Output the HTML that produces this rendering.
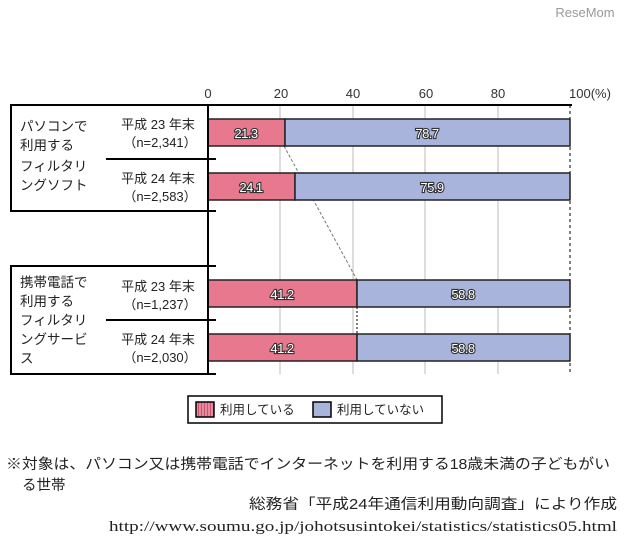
<!DOCTYPE html>
<html><head><meta charset="utf-8"><style>
body{margin:0;background:#fff;width:640px;height:553px;overflow:hidden;font-family:"Liberation Sans","Noto Sans CJK JP",sans-serif;}
</style></head><body>
<svg width="640" height="553" viewBox="0 0 640 553" xmlns="http://www.w3.org/2000/svg" font-family="Liberation Sans, Noto Sans CJK JP, sans-serif">
<defs><pattern id="hp" width="3" height="10" patternUnits="userSpaceOnUse"><rect width="3" height="10" fill="#e98a9c"/><rect width="1" height="10" fill="#c9566c"/></pattern></defs>
<text x="585" y="17" font-size="13" fill="#999" text-anchor="middle">ReseMom</text>
<g font-size="13" fill="#333" text-anchor="middle">
<text x="208" y="98">0</text><text x="281" y="98">20</text><text x="353" y="98">40</text><text x="426" y="98">60</text><text x="498" y="98">80</text><text x="590" y="98">100(%)</text>
</g>
<g stroke="#bbb" stroke-width="1">
<line x1="280" y1="105" x2="280" y2="374"/><line x1="353" y1="105" x2="353" y2="374"/><line x1="425" y1="105" x2="425" y2="374"/><line x1="498" y1="105" x2="498" y2="374"/>
</g>
<line x1="570" y1="105" x2="570" y2="374" stroke="#000" stroke-dasharray="3,3"/>
<line x1="284" y1="146" x2="357" y2="280" stroke="#777" stroke-dasharray="3,2"/>
<line x1="357" y1="307" x2="357" y2="334" stroke="#000" stroke-dasharray="2,2"/>
<g stroke="#222" stroke-width="1.5">
<rect x="208" y="119" width="77" height="27" fill="#e8788e"/><rect x="285" y="119" width="285" height="27" fill="#a9b4dc"/>
<rect x="208" y="173" width="87" height="27" fill="#e8788e"/><rect x="295" y="173" width="275" height="27" fill="#a9b4dc"/>
<rect x="208" y="280" width="149" height="27" fill="#e8788e"/><rect x="357" y="280" width="213" height="27" fill="#a9b4dc"/>
<rect x="208" y="334" width="149" height="27" fill="#e8788e"/><rect x="357" y="334" width="213" height="27" fill="#a9b4dc"/>
</g>
<g font-size="13" fill="#fff" text-anchor="middle" stroke="#333" stroke-width="2.2" paint-order="stroke" style="letter-spacing:-0.5px">
<text x="246" y="138">21.3</text><text x="427" y="138">78.7</text>
<text x="251" y="192">24.1</text><text x="432" y="192">75.9</text>
<text x="282" y="299">41.2</text><text x="463" y="299">58.8</text>
<text x="282" y="353">41.2</text><text x="463" y="353">58.8</text>
</g>
<g stroke="#000" stroke-width="2" fill="none">
<line x1="208" y1="105" x2="572" y2="105"/>
<line x1="208" y1="105" x2="208" y2="374"/>
<path d="M208 105 H11 V211 H216"/>
<path d="M216 266 H11 V374 H216"/>
<line x1="106" y1="159" x2="216" y2="159"/>
<line x1="106" y1="320" x2="216" y2="320"/>
</g>
<g font-size="13.5" fill="#222">
<text x="20" y="131">パソコンで</text><text x="20" y="150">利用する</text><text x="20" y="171">フィルタリ</text><text x="20" y="190">ングソフト</text>
<text x="20" y="287">携帯電話で</text><text x="20" y="306">利用する</text><text x="20" y="325">フィルタリ</text><text x="20" y="344">ングサービ</text><text x="20" y="363">ス</text>
</g>
<g font-size="13" fill="#222" text-anchor="middle">
<text x="158" y="129">平成 23 年末</text><text x="160" y="147">（n=2,341）</text>
<text x="158" y="183">平成 24 年末</text><text x="160" y="201">（n=2,583）</text>
<text x="158" y="291">平成 23 年末</text><text x="160" y="309">（n=1,237）</text>
<text x="158" y="344">平成 24 年末</text><text x="160" y="362">（n=2,030）</text>
</g>
<rect x="188" y="396" width="254" height="27" fill="#fff" stroke="#000" stroke-width="1.5"/>
<rect x="196" y="402" width="18" height="15" fill="url(#hp)" stroke="#000" stroke-width="1.5"/>
<rect x="313" y="402" width="18" height="15" fill="#a9b4dc" stroke="#000" stroke-width="1.5"/>
<g font-size="12.5" fill="#222"><text x="220" y="414">利用している</text><text x="337" y="414">利用していない</text></g>
<g font-size="14.5" fill="#222">
<text x="6" y="469" textLength="604" lengthAdjust="spacingAndGlyphs">※対象は、パソコン又は携帯電話でインターネットを利用する18歳未満の子どもがい</text>
<text x="22" y="490">る世帯</text>
<text x="617" y="509" text-anchor="end" textLength="368" lengthAdjust="spacingAndGlyphs">総務省「平成24年通信利用動向調査」により作成</text>
</g>
<text x="617" y="531" text-anchor="end" font-size="14.5" fill="#222" font-family="Liberation Serif, serif" textLength="508" lengthAdjust="spacingAndGlyphs">http://www.soumu.go.jp/johotsusintokei/statistics/statistics05.html</text>
</svg>
</body></html>
